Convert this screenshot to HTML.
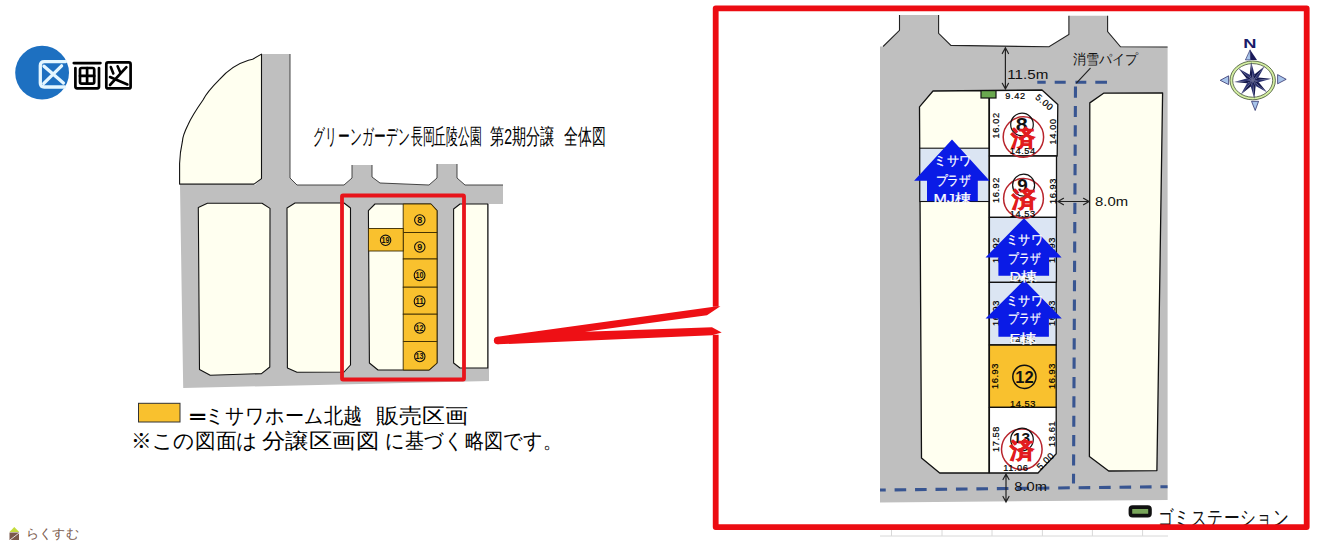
<!DOCTYPE html>
<html><head><meta charset="utf-8">
<style>
html,body{margin:0;padding:0;background:#fff;width:1319px;height:544px;overflow:hidden}
body{font-family:"Liberation Sans",sans-serif;position:relative}
svg{position:absolute;left:0;top:0}
.t{position:absolute;white-space:nowrap;line-height:1;color:#000;transform-origin:0 0}
</style></head><body>
<svg width="1319" height="544" viewBox="0 0 1319 544" font-family="Liberation Sans, sans-serif">
<!-- ===== TITLE 区画図 ===== -->
<circle cx="42.1" cy="72.7" r="26.9" fill="#1d70c1"/>
<g fill="none" stroke="#e4f6ff" stroke-width="3.3" stroke-linecap="round" stroke-linejoin="round">
<path d="M65.6 61.6 H44.3 Q40.3 61.6 40.3 65.6 V83 Q40.3 87 44.3 87 H64.6"/>
<path d="M44 66.2 L63.4 83 M61.6 65.8 L43.8 83.4"/>
</g>
<g fill="none" stroke="#000" stroke-width="2.7" stroke-linecap="round" stroke-linejoin="round">
<path d="M73.8 63.1 H100.4"/>
<path d="M75.4 68 V86.5 Q75.4 88.3 77.2 88.3 H97.2 Q99 88.3 99 86.5 V68"/>
<rect x="80" y="68" width="14.2" height="15.6" rx="1.6"/>
<path d="M87.1 68 V83.6 M80 75.9 H94.2"/>
<rect x="106.3" y="62.45" width="24.3" height="26" rx="1.8"/>
<path d="M110.8 67 L113.3 73.5 M117.6 66.3 L120.2 72.2" stroke-width="2.6"/>
<path d="M126.4 67.2 L110 85 M110 77 L127.4 84.5" stroke-width="2.6"/>
</g>

<!-- ===== LEFT MAP ===== -->
<polygon fill="#bfbfbf" points="262,54 290,54 290,178 297,185 344,185 352,178 352,165 372,165 372,177 380,183 429,185 437,178 437,164 457,164 457,178 465,185 503,185 503,204 489,204 489,381 183.2,388 180,185 255,185 262,178"/>
<path fill="none" stroke="#333" stroke-width="0.9" d="M290 54 V178 L297 185 H344 L352 178 V165 M372 165 V177 L380 183 L429 185 L437 178 V164 M457 164 V178 L465 185 H503"/>
<g fill="#fffff0" stroke="#111" stroke-width="1.1" stroke-linejoin="round">
<path d="M261.5 54.1 L252.6 59.3 L248.5 60.2 C236 64 226 72 219.6 79.4 C210 89 205 96 203 100 C196 110 191 118 187.9 125 C184 133 182.5 137 182.4 141.4 C180.5 150 179.8 157 179.6 163.5 L179.6 184.1 L254 184.1 L261.5 178.6 Z"/>
<polygon points="207.4,203.3 262,203.3 270,208.4 269.8,367 261.5,373.6 210.2,375.3 199.5,369.5 198.3,207.4"/>
<polygon points="295,203 344,203 350.5,208 350.5,365 344,372 297,372.3 287.4,368 287,208"/>
<polygon points="375,204 431,204 437,210.7 437,363 429,370 378,370 369.4,363 368.4,210.7"/>
<polygon points="460,204 487.8,204 487.8,368 460,368 453.6,363 453.6,209"/>
</g>
<g fill="#f9c12e" stroke="#3a2a00" stroke-width="0.9">
<polygon points="403.2,204 431,204 437,210.7 437,232.5 403.2,232.5"/>
<rect x="403.2" y="232.5" width="33.8" height="26.5"/>
<rect x="403.2" y="259" width="33.8" height="28.2"/>
<rect x="403.2" y="287.2" width="33.8" height="27"/>
<rect x="403.2" y="314.2" width="33.8" height="27.3"/>
<polygon points="403.2,341.5 437,341.5 437,363 429,370 403.2,370"/>
<rect x="368.4" y="228.5" width="34.8" height="22.5"/>
</g>
<g fill="#111" font-size="9" text-anchor="middle" font-weight="bold">
<g fill="none" stroke="#111" stroke-width="1.1">
<circle cx="419.8" cy="220" r="5.2"/><circle cx="419.8" cy="247" r="5.2"/><circle cx="419.6" cy="275.2" r="5.4"/>
<circle cx="419.6" cy="301.3" r="5.4"/><circle cx="419.8" cy="328" r="5.2"/><circle cx="419.8" cy="356.5" r="5.2"/>
<circle cx="385.6" cy="240.3" r="5.2"/>
</g>
<text x="419.8" y="223.2">8</text><text x="419.8" y="250.2">9</text>
<text x="419.6" y="278.3" font-size="8.2" textLength="8" lengthAdjust="spacingAndGlyphs">10</text>
<text x="419.6" y="304.4" font-size="8.2" textLength="8" lengthAdjust="spacingAndGlyphs">11</text>
<text x="419.6" y="331.2" font-size="8.2" textLength="8" lengthAdjust="spacingAndGlyphs">12</text>
<text x="419.6" y="359.4" font-size="8.2" textLength="8" lengthAdjust="spacingAndGlyphs">13</text>
<text x="385.6" y="243.4" font-size="8.2" textLength="8" lengthAdjust="spacingAndGlyphs">19</text>
</g>
<rect x="342" y="195.5" width="122" height="184" fill="none" stroke="#e8141b" stroke-width="3.8" rx="1"/>
<!-- legend swatch -->
<rect x="138.5" y="403.3" width="41.5" height="18.7" fill="#f9c12e" stroke="#333" stroke-width="1"/>
<!-- wedge -->
<g fill="#ee1015">
<circle cx="497.6" cy="340.6" r="3.75"/>
<polygon points="497.6,336.7 712,306.9 720.4,306.3 707,315.2 585,331.7 712,327.2 721.7,332.4 712,335.2 497.6,344.35"/>
</g>

<!-- ===== DETAIL MAP ===== -->
<polygon fill="#bfbfbf" points="880,46.5 883.1,46.5 899.5,30.3 899.5,15.1 938.6,15.1 938.6,33.3 950.9,45.4 1049,46.8 1068.9,34.5 1068.9,15.8 1107.6,15.8 1107.6,31.5 1120.5,46.8 1167.6,47 1167.6,500 880,502.5"/>
<path fill="none" stroke="#222" stroke-width="1.1" d="M883.1 46.5 L899.5 30.3 V15.1 M938.6 15.1 V33.3 L950.9 45.4 L1049 46.8 L1068.9 34.5 V15.8 M1107.6 15.8 V31.5 L1120.5 46.8 L1167.6 47"/>
<g fill="#fffff0" stroke="#111" stroke-width="1.3" stroke-linejoin="round">
<polygon points="933,91 989,90.5 989,473 939.7,473 921.5,458 919.5,106.8"/>
<polygon points="1103.6,93.2 1162.6,93 1156.9,470.6 1108.7,471 1089.4,456.4 1089.8,102.9"/>
</g>
<rect x="919.8" y="148.2" width="69.2" height="53.3" fill="#dbe5f3" stroke="#111" stroke-width="1.1"/>
<g stroke="#111" stroke-width="1.3" stroke-linejoin="round">
<polygon fill="#fff" points="989.4,90.5 1042,90 1057.8,104.6 1057.2,156 989.4,156"/>
<rect fill="#fff" x="989.4" y="156" width="67.1" height="61.3"/>
<rect fill="#dbe5f3" x="989.4" y="217.3" width="67" height="65.1"/>
<rect fill="#dbe5f3" x="989.4" y="282.4" width="66.8" height="62.6"/>
<rect fill="#f9c12e" x="989.4" y="345" width="66.8" height="62.4"/>
<polygon fill="#fff" points="989.4,407.4 1056.2,407.4 1056.2,453.8 1038,473 989.4,473"/>
</g>
<!-- dashed pipes -->
<g stroke="#385591" stroke-width="3.1" fill="none">
<path d="M1037.3 82.3 H1045.7 M1054.7 82.3 H1065.7 M1075.4 82.3 H1086.3 M1095.3 82.3 H1107"/>
<path d="M1075.5 82.3 L1073.5 483.4" stroke-dasharray="11.2 8.16" stroke-dashoffset="15.12"/>
<path d="M880 490 L1167.6 486.7" stroke-dasharray="11.6 8.85" stroke-dashoffset="5.85"/>
</g>
<!-- green station marker -->
<rect x="981" y="90.6" width="15" height="7.4" fill="#6aa84f" stroke="#111" stroke-width="1.2"/>
<!-- stamps -->
<g>
<circle cx="1023.4" cy="137" r="20.2" fill="none" stroke="#b8242c" stroke-width="1.5"/>
<circle cx="1022" cy="124.5" r="11.3" fill="none" stroke="#111" stroke-width="1.2"/>
<text x="1021.7" y="130.6" font-size="17.5" font-weight="bold" text-anchor="middle" fill="#111" textLength="12" lengthAdjust="spacingAndGlyphs">8</text>
<text x="1011" y="145.8" font-size="21.5" font-weight="bold" fill="#e21c1f" stroke="#e21c1f" stroke-width="0.8" textLength="24" lengthAdjust="spacingAndGlyphs">済</text>

<circle cx="1023.5" cy="198.4" r="19.9" fill="none" stroke="#b8242c" stroke-width="1.5"/>
<circle cx="1023.6" cy="185.2" r="11" fill="none" stroke="#111" stroke-width="1.2"/>
<text x="1022.5" y="192" font-size="17.5" font-weight="bold" text-anchor="middle" fill="#111" textLength="10.5" lengthAdjust="spacingAndGlyphs">9</text>
<text x="1011.6" y="207" font-size="21.5" font-weight="bold" fill="#e21c1f" stroke="#e21c1f" stroke-width="0.8" textLength="24" lengthAdjust="spacingAndGlyphs">済</text>

<circle cx="1024.4" cy="376.8" r="11.6" fill="none" stroke="#111" stroke-width="1.5"/>
<text x="1024.4" y="382.8" font-size="16.5" font-weight="bold" text-anchor="middle" fill="#111">12</text>

<circle cx="1021.8" cy="449.3" r="20.3" fill="none" stroke="#b8242c" stroke-width="1.5"/>
<circle cx="1022" cy="439.5" r="11.3" fill="none" stroke="#111" stroke-width="1.2"/>
<text x="1021.6" y="443.2" font-size="15.5" font-weight="bold" text-anchor="middle" fill="#111">13</text>
<text x="1009.5" y="458.4" font-size="21.5" font-weight="bold" fill="#e21c1f" stroke="#e21c1f" stroke-width="0.8" textLength="24" lengthAdjust="spacingAndGlyphs">済</text>
</g>
<!-- dimension labels -->
<g font-size="9.2" fill="#000" stroke="#000" stroke-width="0.2" text-anchor="middle">
<text x="1015.5" y="98.6" letter-spacing="0.6">9.42</text>
<text transform="translate(1044.5 102.2) rotate(40)" y="3.2" letter-spacing="0.6">5.00</text>
<text transform="translate(996 125.4) rotate(-90)" y="3.3" letter-spacing="0.6">16.02</text>
<text transform="translate(1053 131.4) rotate(-90)" y="3.3" letter-spacing="0.6">14.00</text>
<text transform="translate(996 190) rotate(-90)" y="3.3" letter-spacing="0.6">16.92</text>
<text transform="translate(1053 191) rotate(-90)" y="3.3" letter-spacing="0.6">16.93</text>
<text x="1022.8" y="154.4" letter-spacing="0.6">14.54</text>
<text x="1022.8" y="217" letter-spacing="0.6">14.53</text>
<text transform="translate(995.5 250) rotate(-90)" y="3.3" letter-spacing="0.6">16.92</text>
<text transform="translate(1052 250) rotate(-90)" y="3.3" letter-spacing="0.6">16.93</text>
<text transform="translate(995.5 313) rotate(-90)" y="3.3" letter-spacing="0.6">16.93</text>
<text transform="translate(1052 313) rotate(-90)" y="3.3" letter-spacing="0.6">16.93</text>
<text x="1022.8" y="282" letter-spacing="0.6">14.53</text>
<text x="1022.8" y="343" letter-spacing="0.6">14.53</text>
<text transform="translate(994.8 376) rotate(-90)" y="3.3" letter-spacing="0.6">16.93</text>
<text transform="translate(1051.4 376) rotate(-90)" y="3.3" letter-spacing="0.6">16.93</text>
<text x="1023" y="406.6" letter-spacing="0.6">14.53</text>
<text transform="translate(995.8 439) rotate(-90)" y="3.3" letter-spacing="0.6">17.58</text>
<text transform="translate(1051.4 433.9) rotate(-90)" y="3.3" letter-spacing="0.6">13.61</text>
<text x="1015.8" y="470.6" letter-spacing="0.6">11.06</text>
<text transform="translate(1045.5 461) rotate(-45)" y="3.2" letter-spacing="0.6">5.00</text>
</g>
<!-- blue arrows -->
<g fill="#0a1be6">
<polygon points="952,139.6 989.6,180.7 977.8,180.7 977.8,201.3 927,201.3 927,180.7 914.1,180.7"/>
<polygon points="1024,218.2 1061.6,257.4 1049.1,257.4 1049.1,275.7 998.4,275.7 998.4,257.4 985.5,257.4"/>
<polygon points="1024.1,280.1 1061.8,318.4 1048.9,318.4 1048.9,336.8 998.4,336.8 998.4,318.4 985.5,318.4"/>
</g>
<g fill="#fff" font-size="12.5" stroke="#fff" stroke-width="0.25">
<text x="934.4" y="165.4" textLength="36.5" lengthAdjust="spacingAndGlyphs">ミサワ</text>
<text x="935.8" y="185.2" textLength="35" lengthAdjust="spacingAndGlyphs">プラザ</text>
<text x="933.4" y="202.6" textLength="38" lengthAdjust="spacingAndGlyphs">MJ棟</text>
<text x="1006.2" y="244" textLength="36.5" lengthAdjust="spacingAndGlyphs">ミサワ</text>
<text x="1008.3" y="262.6" textLength="32" lengthAdjust="spacingAndGlyphs">プラザ</text>
<text x="1009.4" y="280.6" textLength="27.5" lengthAdjust="spacingAndGlyphs">D棟</text>
<text x="1006.2" y="305.2" textLength="36.5" lengthAdjust="spacingAndGlyphs">ミサワ</text>
<text x="1008.3" y="323.4" textLength="32" lengthAdjust="spacingAndGlyphs">プラザ</text>
<text x="1009.4" y="342.6" textLength="27.5" lengthAdjust="spacingAndGlyphs">E棟</text>
</g>
<!-- dimension arrows -->
<g stroke="#222" stroke-width="1.2" fill="none" stroke-linecap="round">
<path d="M1005.4 47.8 V89 M1002.3 53.5 L1005.4 47.8 L1008.5 53.5 M1002.3 83.3 L1005.4 89 L1008.5 83.3"/>
<path d="M1058 201.5 H1089 M1063.5 198.3 L1058 201.5 L1063.5 204.7 M1083.5 198.3 L1089 201.5 L1083.5 204.7"/>
<path d="M1006 474 V502 M1003 479.5 L1006 474 L1009 479.5 M1003 496.5 L1006 502 L1009 496.5"/>
<path d="M1090.2 68.4 L1076.6 82.8"/>
</g>
<g font-size="12" fill="#111" lengthAdjust="spacingAndGlyphs">
<text x="1007.3" y="79" textLength="41" lengthAdjust="spacingAndGlyphs">11.5m</text>
<text x="1095" y="205.5" textLength="33" lengthAdjust="spacingAndGlyphs">8.0m</text>
<text x="1014.3" y="491" textLength="32.6" lengthAdjust="spacingAndGlyphs">8.0m</text>
</g>
<text x="1073" y="64.4" font-size="13.6" fill="#111" textLength="65" lengthAdjust="spacingAndGlyphs">消雪パイプ</text>
<!-- compass -->
<text x="1249.8" y="47.8" font-size="13.4" font-weight="bold" fill="#1b1b6a" text-anchor="middle" textLength="13.2" lengthAdjust="spacingAndGlyphs">N</text>
<g transform="translate(1252.7 80.4)">
<ellipse cx="0" cy="0" rx="21.4" ry="18.1" fill="none" stroke="#d4eea2" stroke-width="2.6"/>
<ellipse cx="0" cy="0" rx="22.7" ry="19.4" fill="none" stroke="#2a3a20" stroke-width="0.7"/>
<ellipse cx="0" cy="0" rx="20" ry="16.8" fill="none" stroke="#2a3a20" stroke-width="0.7"/>
<polygon points="0,0 -2.96,-5.68 -1.61,-18.43" fill="#161a4e"/>
<polygon points="0,0 -1.61,-18.43 1.92,-6.10" fill="#2c3270"/>
<polygon points="0,0 1.92,-6.10 11.89,-14.17" fill="#161a4e"/>
<polygon points="0,0 11.89,-14.17 5.68,-2.96" fill="#2c3270"/>
<polygon points="0,0 5.68,-2.96 18.43,-1.61" fill="#161a4e"/>
<polygon points="0,0 18.43,-1.61 6.10,1.92" fill="#2c3270"/>
<polygon points="0,0 6.10,1.92 14.17,11.89" fill="#161a4e"/>
<polygon points="0,0 14.17,11.89 2.96,5.68" fill="#2c3270"/>
<polygon points="0,0 2.96,5.68 1.61,18.43" fill="#161a4e"/>
<polygon points="0,0 1.61,18.43 -1.92,6.10" fill="#2c3270"/>
<polygon points="0,0 -1.92,6.10 -11.89,14.17" fill="#161a4e"/>
<polygon points="0,0 -11.89,14.17 -5.68,2.96" fill="#2c3270"/>
<polygon points="0,0 -5.68,2.96 -18.43,1.61" fill="#161a4e"/>
<polygon points="0,0 -18.43,1.61 -6.10,-1.92" fill="#2c3270"/>
<polygon points="0,0 -6.10,-1.92 -14.17,-11.89" fill="#161a4e"/>
<polygon points="0,0 -14.17,-11.89 -2.96,-5.68" fill="#2c3270"/>
</g>
<polygon points="1250.1,49.8 1245.4,59.9 1250.6,59.9" fill="#a8c4ea" stroke="#1b1b5a" stroke-width="0.6"/>
<polygon points="1250.1,49.8 1257,59.9 1250.6,59.9" fill="#1b1b5a"/>
<polygon points="1251.5,101.3 1258.6,101.3 1255.2,110.5" fill="#a8c4ea" stroke="#1b1b5a" stroke-width="0.7"/>
<polygon points="1220.2,80.3 1228.6,75.8 1228.6,84.6" fill="#a8c4ea" stroke="#1b1b5a" stroke-width="0.7"/>
<polygon points="1286.2,79.3 1277.6,74.6 1277.6,83.8" fill="#a8c4ea" stroke="#1b1b5a" stroke-width="0.7"/>
<!-- gomi station legend -->
<rect x="1130.4" y="507.1" width="19.6" height="8.5" rx="2.2" fill="#78a65a" stroke="#111" stroke-width="3.6"/>
<text x="1158" y="524.5" font-size="20.5" fill="#111" textLength="131" lengthAdjust="spacingAndGlyphs">ゴミステーション</text>
<!-- faint lines under -->
<g stroke="#d8d8d8" stroke-width="1" fill="none">
<path d="M880 536 H1168 M891.5 530 V536 M942 530 V536 M992 530 V536 M1042.4 530 V536 M1092.4 530 V536 M1142.6 530 V536"/>
</g>
<!-- big red frame -->
<path fill="none" stroke="#ec0c12" stroke-width="5.8" stroke-linejoin="round" d="M715.7 306.8 V8.3 H1306.7 V527.1 H715.7 V334.8"/>
<!-- logo -->
<polygon points="14.3,527 19.2,532 9.5,532" fill="#c4dc3c"/>
<rect x="9.5" y="532.5" width="9.5" height="7.5" fill="#7a5a4c"/>
<path d="M10 540 L19 533" stroke="#fff" stroke-width="0.8"/>
<text x="26" y="538.3" font-size="13" fill="#7a5a4c" letter-spacing="0.2">らくすむ</text>
</svg>
<div class="t" style="left:312.5px;top:125.5px;font-size:22px;transform:scaleX(0.537)">グリーンガーデン長岡丘陵公園</div>
<div class="t" style="left:489.5px;top:125.5px;font-size:22px;transform:scaleX(0.643)">第2期分譲</div>
<div class="t" style="left:563.5px;top:125.5px;font-size:22px;transform:scaleX(0.63)">全体図</div>
<div class="t" style="left:184px;top:404.5px;font-size:21px;font-weight:bold;transform:scaleX(1.3)">＝</div>
<div class="t" style="left:204.8px;top:404.5px;font-size:21px;transform:scaleX(0.91)">ミサワホーム北越</div>
<div class="t" style="left:375.7px;top:404.5px;font-size:21px;transform:scaleX(1.10)">販売区画</div>
<div class="t" style="left:131.2px;top:430px;font-size:21px;transform:scaleX(0.984)">※この図面は</div>
<div class="t" style="left:262.3px;top:430px;font-size:21px;transform:scaleX(1.114)">分譲区画図</div>
<div class="t" style="left:384.8px;top:430px;font-size:21px;transform:scaleX(0.914)">に基づく略図です。</div>
</body></html>
